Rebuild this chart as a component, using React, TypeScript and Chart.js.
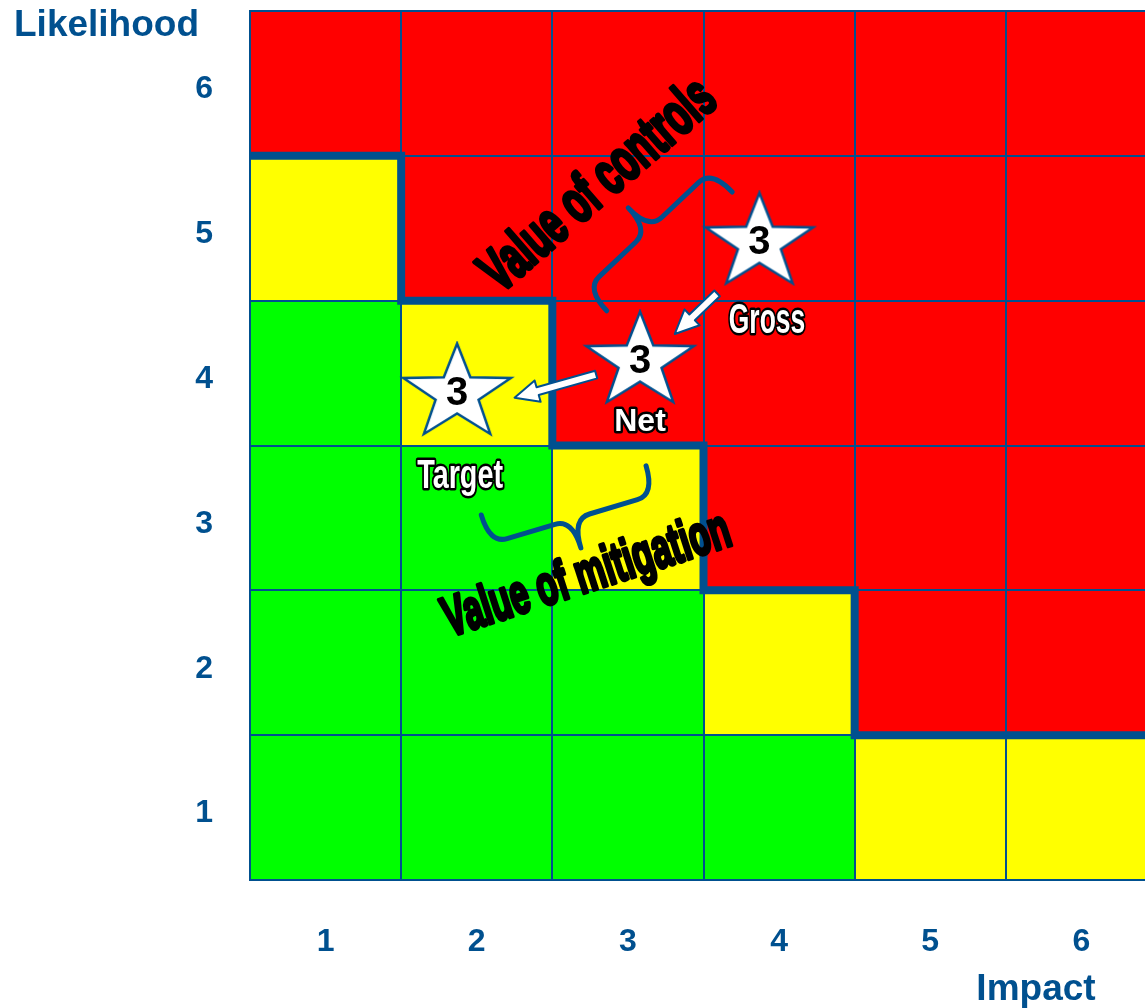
import { useEffect, useRef } from 'react';
import { Chart, registerables } from 'chart.js';

Chart.register(...registerables);

// Axis categories
const impactTicks = [1, 2, 3, 4, 5, 6];
const likelihoodTicks = [1, 2, 3, 4, 5, 6];

// Risk rating of each cell, one row per likelihood (1 at the bottom), one column per impact
const riskByLikelihood = [
  ['low', 'low', 'low', 'low', 'medium', 'medium'],
  ['low', 'low', 'low', 'medium', 'high', 'high'],
  ['low', 'low', 'medium', 'high', 'high', 'high'],
  ['low', 'medium', 'high', 'high', 'high', 'high'],
  ['medium', 'high', 'high', 'high', 'high', 'high'],
  ['high', 'high', 'high', 'high', 'high', 'high'],
];

// Tolerance line separating the red zone
const toleranceImpact = [0.5, 1.5, 1.5, 2.5, 2.5, 3.5, 3.5, 4.5, 4.5, 6.5];
const toleranceLikelihood = [5.5, 5.5, 4.5, 4.5, 3.5, 3.5, 2.5, 2.5, 1.5, 1.5];

// Risk positions
const riskNames = ['Gross', 'Net', 'Target'];
const riskImpact = [3.87, 3.08, 1.87];
const riskLikelihood = [4.93, 4.11, 3.89];
const riskScores = ['3', '3', '3'];
const riskLabelImpact = [3.92, 3.08, 1.89];
const riskLabelLikelihood = [4.36, 3.66, 3.28];

// Movement arrows (tail -> head)
const arrowFromImpact = [3.59, 2.79];
const arrowFromLikelihood = [4.55, 3.99];
const arrowToImpact = [3.31, 2.25];
const arrowToLikelihood = [4.27, 3.83];

// Braces spanning the value of controls / mitigation
const braceFromImpact = [2.86, 3.12];
const braceFromLikelihood = [4.43, 3.36];
const braceToImpact = [3.69, 2.03];
const braceToLikelihood = [5.25, 3.02];

// Callout captions
const calloutTexts = ['Value of controls', 'Value of mitigation'];
const calloutImpact = [2.81, 2.73];
const calloutLikelihood = [5.29, 2.6];

const BLUE = '#00508f';
const FONT = '"Liberation Sans", Arial, Helvetica, sans-serif';
const riskColours: Record<string, string> = { low: '#00ff00', medium: '#ffff00', high: '#ff0000' };
const labelFontSizes = [42, 32, 40];
const labelStretch = [0.63, 1, 0.72];
const calloutFontSizes = [60, 56];
const calloutStretch = [0.6, 0.6];
const calloutAngles = [-41, -18];

function makeStar(): HTMLCanvasElement {
  const c = document.createElement('canvas');
  c.width = 116;
  c.height = 96;
  const ctx = c.getContext('2d')!;
  const rx = 56.5;
  const ry = 50;
  const cx = 58;
  const cy = 52.5;
  ctx.beginPath();
  for (let i = 0; i < 10; i++) {
    const a = (-90 + i * 36) * (Math.PI / 180);
    const r = i % 2 === 0 ? 1 : 0.4;
    const px = cx + rx * r * Math.cos(a);
    const py = cy + ry * r * Math.sin(a);
    if (i === 0) ctx.moveTo(px, py);
    else ctx.lineTo(px, py);
  }
  ctx.closePath();
  ctx.fillStyle = '#ffffff';
  ctx.fill();
  ctx.lineWidth = 2.5;
  ctx.lineJoin = 'miter';
  ctx.strokeStyle = BLUE;
  ctx.stroke();
  return c;
}

const riskCellsPlugin = {
  id: 'riskCells',
  beforeDraw(chart: any) {
    const { ctx } = chart;
    const x = chart.scales.x;
    const y = chart.scales.y;
    ctx.save();
    riskByLikelihood.forEach((row, r) => {
      row.forEach((level, c) => {
        const left = x.getPixelForValue(impactTicks[c] - 0.5);
        const right = x.getPixelForValue(impactTicks[c] + 0.5);
        const top = y.getPixelForValue(likelihoodTicks[r] + 0.5);
        const bottom = y.getPixelForValue(likelihoodTicks[r] - 0.5);
        ctx.fillStyle = riskColours[level];
        ctx.fillRect(left, top, right - left, bottom - top);
      });
    });
    ctx.restore();
  },
};

function drawBrace(ctx: CanvasRenderingContext2D, x1: number, y1: number, x2: number, y2: number) {
  const dx = x2 - x1;
  const dy = y2 - y1;
  const len = Math.hypot(dx, dy);
  const ux = dx / len;
  const uy = dy / len;
  const nx = uy;
  const ny = -ux;
  const h = 30;
  const r = 18;
  const P = (s: number, t: number): [number, number] => [x1 + ux * s + nx * t, y1 + uy * s + ny * t];
  const m = len / 2;
  ctx.beginPath();
  ctx.moveTo(...P(0, 0));
  ctx.quadraticCurveTo(...P(0, h), ...P(r, h));
  ctx.lineTo(...P(m - r, h));
  ctx.quadraticCurveTo(...P(m, h), ...P(m, 2 * h));
  ctx.quadraticCurveTo(...P(m, h), ...P(m + r, h));
  ctx.lineTo(...P(len - r, h));
  ctx.quadraticCurveTo(...P(len, h), ...P(len, 0));
  ctx.stroke();
}

function drawArrow(ctx: CanvasRenderingContext2D, tx: number, ty: number, hx: number, hy: number) {
  const len = Math.hypot(hx - tx, hy - ty);
  const ux = (hx - tx) / len;
  const uy = (hy - ty) / len;
  const nx = -uy;
  const ny = ux;
  const shaft = 4;
  const headLen = 24;
  const headHalf = 11;
  const bx = hx - ux * headLen;
  const by = hy - uy * headLen;
  ctx.beginPath();
  ctx.moveTo(tx + nx * shaft, ty + ny * shaft);
  ctx.lineTo(bx + nx * shaft, by + ny * shaft);
  ctx.lineTo(bx + nx * headHalf, by + ny * headHalf);
  ctx.lineTo(hx, hy);
  ctx.lineTo(bx - nx * headHalf, by - ny * headHalf);
  ctx.lineTo(bx - nx * shaft, by - ny * shaft);
  ctx.lineTo(tx - nx * shaft, ty - ny * shaft);
  ctx.closePath();
  ctx.fillStyle = '#ffffff';
  ctx.fill();
  ctx.lineWidth = 2;
  ctx.strokeStyle = BLUE;
  ctx.stroke();
}

const annotationsPlugin = {
  id: 'riskAnnotations',
  afterDatasetsDraw(chart: any) {
    const { ctx } = chart;
    const x = chart.scales.x;
    const y = chart.scales.y;
    ctx.save();

    // braces
    ctx.strokeStyle = BLUE;
    ctx.lineWidth = 5;
    ctx.lineCap = 'round';
    ctx.lineJoin = 'round';
    braceFromImpact.forEach((_, i) => {
      drawBrace(
        ctx,
        x.getPixelForValue(braceFromImpact[i]),
        y.getPixelForValue(braceFromLikelihood[i]),
        x.getPixelForValue(braceToImpact[i]),
        y.getPixelForValue(braceToLikelihood[i])
      );
    });

    // arrows
    arrowFromImpact.forEach((_, i) => {
      drawArrow(
        ctx,
        x.getPixelForValue(arrowFromImpact[i]),
        y.getPixelForValue(arrowFromLikelihood[i]),
        x.getPixelForValue(arrowToImpact[i]),
        y.getPixelForValue(arrowToLikelihood[i])
      );
    });

    // scores inside the stars
    const meta = chart.getDatasetMeta(0);
    ctx.fillStyle = '#000000';
    ctx.textAlign = 'center';
    ctx.textBaseline = 'middle';
    ctx.font = `bold 40px ${FONT}`;
    meta.data.forEach((pt: any, i: number) => {
      ctx.fillText(riskScores[i], pt.x, pt.y + 5);
    });

    // outlined labels
    riskNames.forEach((name, i) => {
      const px = x.getPixelForValue(riskLabelImpact[i]);
      const py = y.getPixelForValue(riskLabelLikelihood[i]);
      ctx.save();
      ctx.translate(px, py);
      ctx.scale(labelStretch[i], 1);
      ctx.font = `bold ${labelFontSizes[i]}px ${FONT}`;
      ctx.lineJoin = 'round';
      ctx.lineWidth = 5;
      ctx.strokeStyle = '#000000';
      ctx.strokeText(name, 0, 0);
      ctx.fillStyle = '#ffffff';
      ctx.fillText(name, 0, 0);
      ctx.restore();
    });

    // rotated captions, heavy condensed lettering
    calloutTexts.forEach((text, i) => {
      const px = x.getPixelForValue(calloutImpact[i]);
      const py = y.getPixelForValue(calloutLikelihood[i]);
      ctx.save();
      ctx.translate(px, py);
      ctx.rotate((calloutAngles[i] * Math.PI) / 180);
      ctx.scale(calloutStretch[i], 1);
      ctx.font = `bold ${calloutFontSizes[i]}px ${FONT}`;
      ctx.fillStyle = '#000000';
      ctx.strokeStyle = '#000000';
      ctx.lineWidth = 4;
      ctx.lineJoin = 'round';
      ctx.strokeText(text, 0, 0);
      ctx.fillText(text, 0, 0);
      ctx.restore();
    });

    ctx.restore();
  },
  afterDraw(chart: any) {
    const { ctx, chartArea } = chart;
    ctx.save();
    ctx.fillStyle = BLUE;
    ctx.font = `bold 37px ${FONT}`;
    ctx.textBaseline = 'alphabetic';
    ctx.textAlign = 'left';
    ctx.fillText('Likelihood', chartArea.left - 236, chartArea.top + 25);
    ctx.textAlign = 'center';
    ctx.fillText('Impact', chartArea.right - 121, chartArea.bottom + 120);
    ctx.restore();
  },
};

export default function App() {
  const canvasRef = useRef<HTMLCanvasElement | null>(null);

  useEffect(() => {
    if (!canvasRef.current) return;
    const star = makeStar();
    const tickFont = { family: FONT, size: 32, weight: 'bold' as const };
    const chart = new Chart(canvasRef.current, {
      type: 'scatter',
      data: {
        datasets: [
          {
            label: 'Risks',
            data: riskImpact.map((v, i) => ({ x: v, y: riskLikelihood[i] })),
            pointStyle: star as any,
            pointRadius: 10,
            pointHoverRadius: 10,
          },
          {
            label: 'Tolerance',
            data: toleranceImpact.map((v, i) => ({ x: v, y: toleranceLikelihood[i] })),
            showLine: true,
            borderColor: BLUE,
            borderWidth: 8,
            pointRadius: 0,
            pointHoverRadius: 0,
            borderJoinStyle: 'miter',
            borderCapStyle: 'square',
          } as any,
        ],
      },
      options: {
        animation: false,
        responsive: false,
        events: [],
        layout: { padding: { top: 10, right: 2, left: 0, bottom: 0 } },
        plugins: {
          legend: { display: false },
          tooltip: { enabled: false },
        },
        scales: {
          x: {
            type: 'linear',
            min: 0.5,
            max: 6.5,
            afterBuildTicks: (s: any) => {
              s.ticks = impactTicks.map((v) => ({ value: v }));
            },
            afterFit: (s: any) => {
              s.height = 128;
              s.paddingLeft = 0;
              s.paddingRight = 0;
            },
            grid: { offset: true, color: BLUE, lineWidth: 2, drawTicks: false },
            border: { display: true, color: BLUE, width: 2 },
            ticks: {
              color: BLUE,
              font: tickFont,
              padding: 43,
              autoSkip: false,
              maxRotation: 0,
              callback: (v: any) => String(v),
            },
          },
          y: {
            type: 'linear',
            min: 0.5,
            max: 6.5,
            afterBuildTicks: (s: any) => {
              s.ticks = likelihoodTicks.map((v) => ({ value: v }));
            },
            afterFit: (s: any) => {
              s.width = 250;
              s.paddingTop = 0;
              s.paddingBottom = 0;
            },
            grid: { offset: true, color: BLUE, lineWidth: 2, drawTicks: false },
            border: { display: true, color: BLUE, width: 2 },
            ticks: {
              color: BLUE,
              font: tickFont,
              padding: 37,
              labelOffset: 6,
              autoSkip: false,
              callback: (v: any) => String(v),
            },
          },
        },
      },
      plugins: [riskCellsPlugin, annotationsPlugin],
    });
    return () => chart.destroy();
  }, []);

  return (
    <div
      style={{
        position: 'fixed',
        left: 0,
        top: 0,
        width: 1145,
        height: 1008,
        overflow: 'hidden',
        background: '#ffffff',
      }}
    >
      <canvas ref={canvasRef} width={1168} height={1008} style={{ display: 'block' }} />
    </div>
  );
}
